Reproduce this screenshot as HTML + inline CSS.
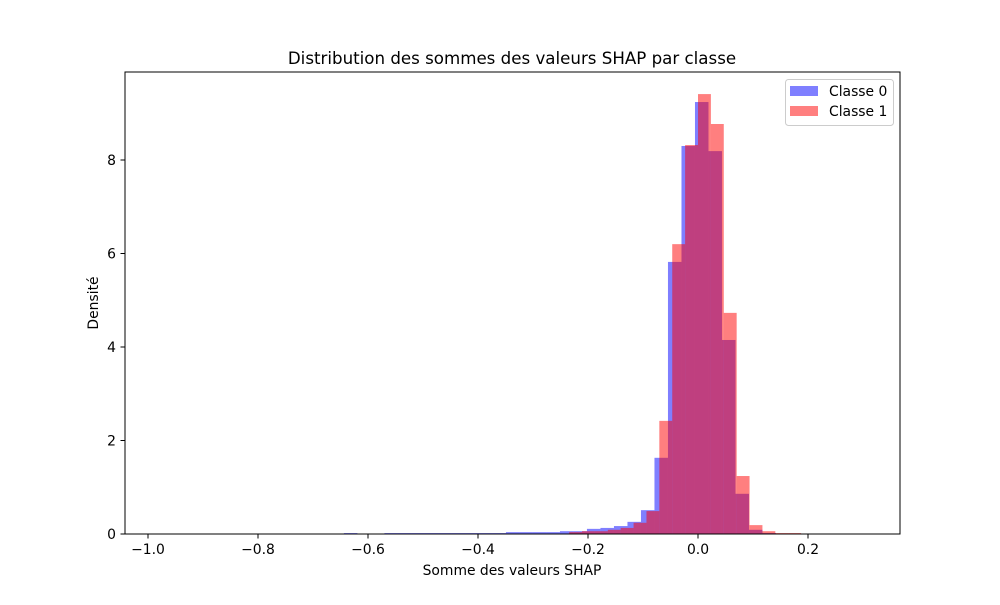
<!DOCTYPE html>
<html><head><meta charset="utf-8"><style>
body{margin:0;background:#fff}
svg text{font-family:"DejaVu Sans","Liberation Sans",sans-serif;fill:#000}
</style></head><body>
<svg id="chart" width="1000" height="600" xmlns="http://www.w3.org/2000/svg">
<rect width="1000" height="600" fill="#fff"/>
<text x="512" y="64" font-size="16.67" text-anchor="middle">Distribution des sommes des valeurs SHAP par classe</text>
<g id="bars"></g>
<rect x="125" y="72" width="775" height="462" fill="none" stroke="#000" stroke-width="1"/>
<g id="xaxis"></g>
<g id="yaxis"></g>
<text x="512" y="575" font-size="13.9" text-anchor="middle">Somme des valeurs SHAP</text>
<text x="98" y="303" font-size="13.9" text-anchor="middle" transform="rotate(-90 98 303)">Densité</text>
<g>
<rect x="785.5" y="79.5" width="108" height="46" rx="3" fill="#fff" fill-opacity="0.8" stroke="#ccc"/>
<rect x="790" y="86" width="28" height="10" fill="rgba(0,0,255,0.5)"/>
<text x="829" y="96" font-size="13.9">Classe 0</text>
<rect x="790" y="106" width="28" height="10" fill="rgba(255,0,0,0.5)"/>
<text x="829" y="116" font-size="13.9">Classe 1</text>
</g>
</svg>
<script>
const blueStart = -0.9875;
const blueWidth = 0.02455;
const blueValues = [0,0,0,0,0,0,0,0,0,0,0,0,0,0,0.02,0,0.01,0.02,0.02,0.02,0.02,0.02,0.02,0.02,0.02,0.02,0.04,0.04,0.04,0.04,0.06,0.06,0.11,0.13,0.17,0.26,0.51,1.63,5.82,8.30,9.24,8.19,4.15,0.86,0.09,0.02,0.01];
const redStart = -0.42174;
const redWidth = 0.02343;
const redValues = [0.01,0.01,0.01,0.01,0.01,0.01,0.01,0.01,0.04,0.06,0.06,0.09,0.13,0.24,0.49,2.42,6.20,8.32,9.41,8.77,4.73,1.24,0.19,0.06,0.02,0.02];
const xTicks = [-1.0,-0.8,-0.6,-0.4,-0.2,0.0,0.2];
const xTickLabels = ["\u22121.0","\u22120.8","\u22120.6","\u22120.4","\u22120.2","0.0","0.2"];
const yTicks = [0,2,4,6,8];
const yTickLabels = ["0","2","4","6","8"];

const NS = "http://www.w3.org/2000/svg";
function xs(v){return 698 + 550*v;}
function ys(v){return 534 - 46.75*v;}
const bars = document.getElementById('bars');
function drawSeries(start,w,vals,color,name){
  vals.forEach((v,i)=>{
    if(v<=0) return;
    const x0 = xs(start+i*w), x1 = xs(start+(i+1)*w);
    const r = document.createElementNS(NS,'rect');
    r.setAttribute('x',x0); r.setAttribute('width',x1-x0);
    r.setAttribute('y',ys(v)); r.setAttribute('height',ys(0)-ys(v));
    r.setAttribute('fill',color);
    
    
    bars.appendChild(r);
  });
}
drawSeries(blueStart,blueWidth,blueValues,'rgba(0,0,255,0.5)','bar-classe-0');
drawSeries(redStart,redWidth,redValues,'rgba(255,0,0,0.5)','bar-classe-1');

const xa = document.getElementById('xaxis');
xTicks.forEach((t,i)=>{
  const l = document.createElementNS(NS,'line');
  l.setAttribute('x1',xs(t)); l.setAttribute('x2',xs(t));
  l.setAttribute('y1',534); l.setAttribute('y2',538.5);
  l.setAttribute('stroke','#000');
  
  
  xa.appendChild(l);
  const tx = document.createElementNS(NS,'text');
  tx.setAttribute('x',xs(t)); tx.setAttribute('y',554);
  tx.setAttribute('font-size','13.9'); tx.setAttribute('text-anchor','middle');
  tx.textContent = xTickLabels[i];
  
  
  xa.appendChild(tx);
});
const ya = document.getElementById('yaxis');
yTicks.forEach((t,i)=>{
  const l = document.createElementNS(NS,'line');
  l.setAttribute('x1',120.5); l.setAttribute('x2',125);
  l.setAttribute('y1',ys(t)); l.setAttribute('y2',ys(t));
  l.setAttribute('stroke','#000');
  
  
  ya.appendChild(l);
  const tx = document.createElementNS(NS,'text');
  tx.setAttribute('x',116); tx.setAttribute('y',ys(t)+5);
  tx.setAttribute('font-size','13.9'); tx.setAttribute('text-anchor','end');
  tx.textContent = yTickLabels[i];
  
  
  ya.appendChild(tx);
});
</script>
</body></html>
